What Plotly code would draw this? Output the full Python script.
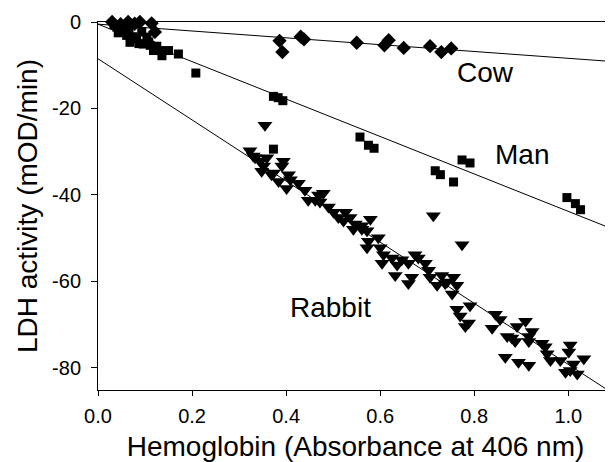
import plotly.graph_objects as go

# ---- data ----
cow_x = [0.030, 0.040, 0.048, 0.054, 0.064, 0.072, 0.078, 0.082, 0.089, 0.100, 0.114, 0.121,
         0.386, 0.392, 0.431, 0.438, 0.550, 0.609, 0.618, 0.650, 0.706, 0.730, 0.751]
cow_y = [0.0, 0.5, -0.5, 0.85, 0.0, 0.7, -0.4, 0.85, 0.0, 0.5, -0.3, -2.3,
         -4.35, -6.95, -3.4, -4.0, -4.8, -5.4, -4.2, -6.0, -5.6, -6.95, -6.1]

man_x = [0.034, 0.040, 0.047, 0.043, 0.050, 0.055, 0.061, 0.051, 0.066, 0.068, 0.074,
         0.082, 0.087, 0.093, 0.096, 0.104, 0.108, 0.111, 0.118, 0.125, 0.132, 0.136,
         0.150, 0.171, 0.208, 0.373, 0.383, 0.393,
         0.373, 0.557, 0.575, 0.587, 0.717, 0.728, 0.756, 0.774, 0.791, 0.997,
         1.015, 1.026]
man_y = [-0.6, -1.2, -1.5, -2.5, -0.8, -2.0, -3.1, -2.3, -2.2, -4.7, -3.4,
         -3.9, -5.0, -2.3, -5.1, -3.5, -4.6, -5.4, -6.6, -5.6, -6.6, -7.8,
         -6.6, -7.4, -11.8, -17.2, -17.5, -18.2,
         -29.4, -26.6, -28.5, -29.2, -34.4, -35.3, -37.0, -31.9, -32.6, -40.6,
         -42.0, -43.4]

rabbit_x = [0.355, 0.323, 0.330, 0.334, 0.345, 0.352, 0.348, 0.359, 0.369, 0.373,
            0.384, 0.391, 0.394, 0.401, 0.405, 0.409, 0.426, 0.440, 0.447, 0.462,
            0.469, 0.479, 0.472, 0.490, 0.501, 0.511, 0.526, 0.522, 0.536, 0.547,
            0.561, 0.572, 0.579, 0.543, 0.561, 0.572, 0.575, 0.596, 0.600, 0.607,
            0.604, 0.625, 0.636, 0.632, 0.646, 0.660, 0.660, 0.667, 0.674, 0.681,
            0.696, 0.703, 0.706, 0.721, 0.731, 0.742, 0.756, 0.763, 0.753, 0.774,
            0.713, 0.738, 0.763, 0.770, 0.791, 0.788, 0.781, 0.845, 0.855, 0.838,
            0.870, 0.880, 0.891, 0.887, 0.909, 0.916, 0.923, 0.916, 0.944, 0.951,
            0.955, 0.962, 0.983, 1.004, 1.001, 1.011, 1.033, 0.994, 1.004, 1.019,
            0.866, 0.894, 0.916]
rabbit_y = [-23.9, -29.8, -31.0, -31.4, -32.2, -33.3, -34.5, -31.4, -35.3, -34.9,
            -36.9, -33.3, -32.2, -38.5, -35.3, -36.5, -37.3, -38.9, -41.2, -41.2,
            -40.0, -39.6, -41.6, -42.8, -44.0, -45.2, -44.0, -46.0, -45.2, -46.7,
            -47.9, -48.3, -45.6, -47.9, -47.1, -52.2, -50.7, -49.9, -52.2, -53.8,
            -55.8, -54.6, -56.2, -58.6, -55.0, -55.8, -60.5, -59.0, -53.8, -54.6,
            -55.8, -57.4, -59.0, -60.9, -58.6, -60.1, -59.0, -60.9, -62.9, -51.5,
            -44.8, -60.5, -66.4, -68.0, -65.6, -69.6, -70.4, -67.6, -68.8, -70.8,
            -72.7, -73.1, -70.4, -73.9, -69.2, -72.7, -71.6, -73.9, -74.3, -75.1,
            -76.7, -78.3, -78.3, -74.7, -76.3, -79.1, -77.9, -81.0, -80.6, -81.4,
            -77.5, -78.7, -79.4]

# linear fits: (intercept, slope)
cow_fit = (-0.5, -7.9)
man_fit = (-0.5, -43.3)
rabbit_fit = (-8.5, -70.7)

x_ticks = [0.0, 0.2, 0.4, 0.6, 0.8, 1.0]
y_ticks = [0, -20, -40, -60, -80]
x_range = [0, 1.095]
y_range = [-85.1, 0]

FONT = "Liberation Sans, Arial, Helvetica, sans-serif"

fig = go.Figure()

for fit in (cow_fit, man_fit, rabbit_fit):
    b, m = fit
    xs = [x_range[0], x_range[1]]
    fig.add_trace(go.Scatter(x=xs, y=[b + m * v for v in xs], mode="lines",
                             line=dict(color="black", width=1), hoverinfo="skip",
                             showlegend=False))

fig.add_trace(go.Scatter(x=cow_x, y=cow_y, mode="markers", cliponaxis=False,
                         marker=dict(symbol="diamond", size=11, color="black"),
                         showlegend=False))
fig.add_trace(go.Scatter(x=man_x, y=man_y, mode="markers", cliponaxis=False,
                         marker=dict(symbol="square", size=9, color="black"),
                         showlegend=False))
fig.add_trace(go.Scatter(x=rabbit_x, y=rabbit_y, mode="markers", cliponaxis=False,
                         marker=dict(symbol="triangle-down", size=13, color="black"),
                         showlegend=False))

for txt, ax_x, ax_y in (("Cow", 0.823, -11.7), ("Man", 0.902, -30.6), ("Rabbit", 0.494, -66.1)):
    fig.add_annotation(x=ax_x, y=ax_y, text=txt, showarrow=False,
                       font=dict(family=FONT, size=28, color="black"))

# the page body adds an 8px offset, so the figure is 8px smaller with 8px less left/top margin
fig.update_layout(
    width=605, height=454,
    margin=dict(l=90, r=0, t=14, b=72),
    paper_bgcolor="white", plot_bgcolor="white",
    font=dict(family=FONT, color="black"),
    xaxis=dict(range=x_range, tickvals=x_ticks, ticktext=[f"{v:.1f}" for v in x_ticks],
               showline=True, linecolor="black", linewidth=1, mirror=True,
               ticks="outside", ticklen=5, tickcolor="black", showgrid=False,
               zeroline=False, tickfont=dict(size=20), automargin=False,
               ticklabelstandoff=3,
               title=dict(text="Hemoglobin (Absorbance at 406 nm)",
                          font=dict(size=28), standoff=10)),
    yaxis=dict(range=y_range, tickvals=y_ticks, ticktext=[str(v) for v in y_ticks],
               showline=True, linecolor="black", linewidth=1,
               ticks="outside", ticklen=6, tickcolor="black", showgrid=False,
               zeroline=False, tickfont=dict(size=20), automargin=False,
               ticklabelstandoff=6,
               title=dict(text="LDH activity (mOD/min)", font=dict(size=28), standoff=6)),
)

fig.write_html("out.html")
